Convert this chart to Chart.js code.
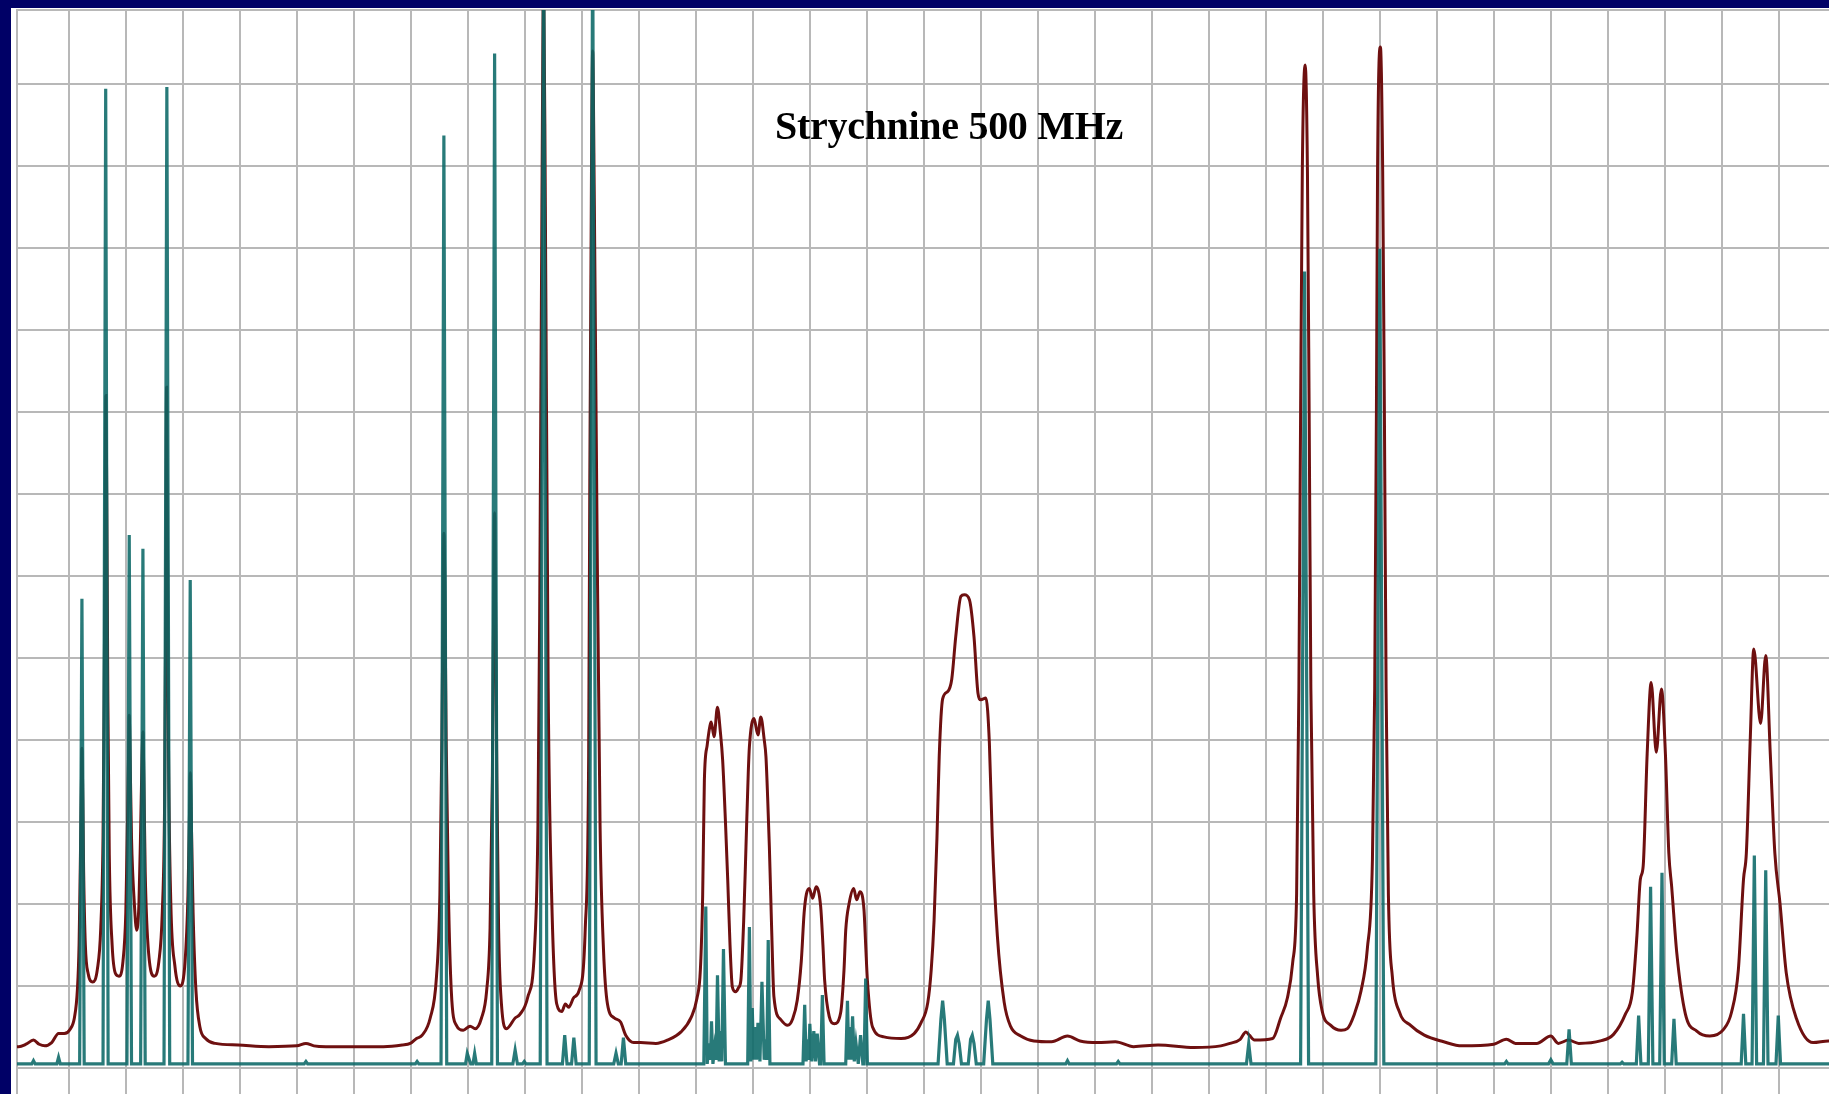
<!DOCTYPE html>
<html>
<head>
<meta charset="utf-8">
<title>Strychnine 500 MHz</title>
<script src="https://cdn.jsdelivr.net/npm/chart.js@4.4.1/dist/chart.umd.min.js"></script>
<style>
  html, body { margin: 0; padding: 0; }
  body { width: 1829px; height: 1094px; background: #000066; position: relative; overflow: hidden; }
  #plot { position: absolute; left: 11px; top: 8px; width: 1818px; height: 1086px; background: #ffffff; }
  #title {
    position: absolute; left: 649px; top: 106px; width: 600px; text-align: center;
    font-family: 'Liberation Serif', 'Times New Roman', serif; font-weight: bold;
    font-size: 40px; line-height: 40px; color: #000; letter-spacing: -0.3px;
  }
</style>
</head>
<body>
<div id="plot"><canvas id="nmrChart"></canvas></div>
<div id="title">Strychnine 500 MHz</div>

<script>
// x = position in grid columns, y = intensity in grid rows
const xTicks = [0, 1, 2, 3, 4, 5, 6, 7, 8, 9, 10, 11, 12, 13, 14, 15, 16, 17, 18, 19, 20, 21, 22, 23, 24, 25, 26, 27, 28, 29, 30];
const yTicks = [0, 1, 2, 3, 4, 5, 6, 7, 8, 9, 10, 11, 12];
const xBounds = [-0.909, 30.88];
const yBounds = [-0.317, 12.9];

// broadened spectrum (dark red)
const broadTrace = [
  [-0.95, 0.26], [-0.88, 0.26], [-0.75, 0.29], [-0.62, 0.34], [-0.52, 0.29], [-0.42, 0.27], [-0.30, 0.31],
  [-0.18, 0.42], [-0.08, 0.42], [0.02, 0.47], [0.10, 0.62], [0.15, 0.95], [0.18, 1.5], [0.20, 2.4],
  [0.22, 3.4], [0.23, 3.9], [0.245, 3.3], [0.26, 2.4], [0.29, 1.5], [0.34, 1.15], [0.42, 1.05],
  [0.50, 1.2], [0.56, 1.7], [0.60, 2.8], [0.62, 4.5], [0.64, 7.0], [0.65, 8.2], [0.665, 7.0],
  [0.685, 4.5], [0.71, 2.6], [0.76, 1.5], [0.82, 1.15], [0.88, 1.12], [0.95, 1.3], [1.00, 1.9],
  [1.03, 3.0], [1.05, 3.9], [1.06, 4.3], [1.075, 3.8], [1.10, 2.8], [1.15, 2.0], [1.19, 1.68],
  [1.23, 2.0], [1.26, 2.9], [1.285, 3.8], [1.30, 4.1], [1.315, 3.6], [1.34, 2.4], [1.40, 1.4],
  [1.50, 1.12], [1.58, 1.3], [1.64, 1.9], [1.68, 3.2], [1.70, 5.5], [1.715, 8.3], [1.73, 6.5],
  [1.75, 3.8], [1.79, 2.0], [1.86, 1.25], [1.96, 1.0], [2.04, 1.3], [2.09, 2.1], [2.12, 3.2],
  [2.13, 3.6], [2.15, 3.0], [2.18, 1.9], [2.23, 0.95], [2.30, 0.50], [2.40, 0.36], [2.57, 0.30],
  [2.97, 0.28], [3.51, 0.26], [4.0, 0.27], [4.16, 0.30], [4.3, 0.27], [4.51, 0.26], [5.0, 0.26],
  [5.52, 0.26], [5.85, 0.28], [5.99, 0.30], [6.10, 0.36], [6.20, 0.40], [6.34, 0.61], [6.45, 1.11],
  [6.51, 2.12], [6.545, 4.0], [6.57, 6.0], [6.58, 6.52], [6.595, 6.0], [6.62, 4.0], [6.66, 2.12],
  [6.71, 0.94], [6.80, 0.52], [6.92, 0.46], [7.04, 0.51], [7.13, 0.48], [7.24, 0.61], [7.33, 0.94],
  [7.39, 1.70], [7.43, 3.5], [7.455, 5.8], [7.47, 6.77], [7.485, 5.8], [7.51, 3.5], [7.54, 1.70],
  [7.59, 0.78], [7.68, 0.48], [7.83, 0.61], [7.91, 0.65], [8.05, 0.86], [8.17, 1.45], [8.23, 2.96],
  [8.26, 5.47], [8.30, 10.5], [8.33, 13.3], [8.36, 10.5], [8.41, 4.63], [8.47, 2.12], [8.56, 0.78],
  [8.65, 0.69], [8.71, 0.78], [8.77, 0.74], [8.86, 0.86], [8.95, 0.94], [9.06, 1.70], [9.12, 3.80],
  [9.14, 7.15], [9.17, 11.0], [9.19, 12.4], [9.22, 10.5], [9.27, 6.31], [9.32, 2.96], [9.38, 1.45],
  [9.45, 0.78], [9.57, 0.61], [9.68, 0.56], [9.77, 0.40], [9.91, 0.31], [10.03, 0.31], [10.3, 0.30],
  [10.5, 0.34], [10.74, 0.44], [10.92, 0.62], [11.02, 0.85], [11.08, 1.2], [11.12, 2.1], [11.15, 3.51],
  [11.20, 3.94], [11.25, 4.18], [11.27, 4.22], [11.32, 4.04], [11.38, 4.40], [11.43, 4.1], [11.47, 3.76],
  [11.52, 3.0], [11.56, 2.29], [11.60, 1.5], [11.64, 0.99], [11.70, 0.93], [11.75, 0.98], [11.79, 1.07],
  [11.84, 1.8], [11.88, 2.70], [11.92, 3.6], [11.94, 3.92], [12.02, 4.26], [12.09, 4.06], [12.14, 4.28],
  [12.20, 4.0], [12.23, 3.80], [12.26, 3.3], [12.29, 2.70], [12.33, 1.7], [12.37, 0.87], [12.49, 0.59],
  [12.61, 0.52], [12.70, 0.6], [12.78, 0.83], [12.85, 1.3], [12.90, 1.89], [12.94, 2.12], [12.99, 2.19],
  [13.05, 2.07], [13.11, 2.21], [13.19, 1.97], [13.23, 1.5], [13.26, 1.07], [13.34, 0.63], [13.43, 0.54],
  [13.54, 0.67], [13.60, 1.2], [13.63, 1.68], [13.69, 2.01], [13.77, 2.19], [13.82, 2.05], [13.88, 2.15],
  [13.95, 1.93], [13.98, 1.5], [14.01, 1.07], [14.10, 0.50], [14.30, 0.38], [14.60, 0.36], [14.83, 0.42],
  [14.95, 0.55], [15.07, 0.8], [15.13, 1.2], [15.18, 1.8], [15.23, 2.8], [15.27, 3.8], [15.33, 4.5],
  [15.42, 4.59], [15.49, 4.74], [15.56, 5.26], [15.65, 5.75], [15.71, 5.77], [15.80, 5.71], [15.88, 5.26],
  [15.95, 4.57], [16.0, 4.49], [16.09, 4.51], [16.15, 3.96], [16.20, 2.83], [16.29, 1.61], [16.41, 0.80],
  [16.52, 0.51], [16.70, 0.39], [16.93, 0.33], [17.24, 0.32], [17.52, 0.39], [17.74, 0.33], [18.05, 0.31],
  [18.36, 0.32], [18.68, 0.26], [19.11, 0.28], [19.74, 0.25], [20.21, 0.27], [20.37, 0.30], [20.55, 0.35],
  [20.65, 0.44], [20.71, 0.40], [20.80, 0.34], [21.12, 0.36], [21.26, 0.61], [21.38, 0.86], [21.47, 1.28],
  [21.54, 2.12], [21.58, 4.63], [21.61, 7.99], [21.64, 10.93], [21.69, 12.23], [21.73, 10.93], [21.76, 7.99],
  [21.79, 4.63], [21.84, 2.12], [21.91, 1.11], [21.99, 0.69], [22.14, 0.52], [22.32, 0.46], [22.43, 0.48],
  [22.55, 0.65], [22.67, 0.94], [22.78, 1.45], [22.87, 2.54], [22.91, 4.63], [22.94, 7.99], [22.96, 10.93],
  [23.01, 12.45], [23.05, 10.93], [23.08, 7.99], [23.11, 4.63], [23.15, 2.12], [23.22, 1.11], [23.34, 0.69],
  [23.54, 0.52], [23.78, 0.40], [24.12, 0.32], [24.44, 0.27], [25.0, 0.29], [25.22, 0.35], [25.38, 0.30],
  [25.75, 0.30], [26.0, 0.39], [26.13, 0.30], [26.31, 0.34], [26.49, 0.30], [26.87, 0.33], [27.10, 0.41],
  [27.31, 0.66], [27.43, 0.92], [27.51, 1.61], [27.57, 2.30], [27.62, 2.46], [27.69, 3.83], [27.76, 4.70],
  [27.85, 3.85], [27.94, 4.62], [28.01, 3.83], [28.07, 2.62], [28.12, 2.21], [28.21, 1.40], [28.36, 0.66],
  [28.56, 0.45], [28.79, 0.39], [29.03, 0.47], [29.17, 0.68], [29.29, 1.20], [29.38, 2.30], [29.43, 2.62],
  [29.50, 4.04], [29.56, 5.11], [29.68, 4.20], [29.77, 5.03], [29.85, 3.83], [29.93, 2.62], [30.02, 2.01],
  [30.13, 1.16], [30.31, 0.60], [30.60, 0.31], [30.87, 0.33], [31.0, 0.33]
];

// stick-like spectrum (teal)
const sharpTrace = [
  [-0.95, 0.05], [-0.65, 0.05], [-0.62, 0.09], [-0.59, 0.05], [-0.21, 0.05], [-0.18, 0.13], [-0.15, 0.05],
  [0.19, 0.05], [0.23, 5.72], [0.27, 0.05],
  [0.60, 0.05], [0.647, 11.94], [0.69, 0.05],
  [1.02, 0.05], [1.06, 6.50], [1.10, 0.05],
  [1.26, 0.05], [1.30, 6.33], [1.34, 0.05],
  [1.67, 0.05], [1.72, 11.96], [1.77, 0.05],
  [2.09, 0.05], [2.13, 5.95], [2.17, 0.05],
  [4.13, 0.05], [4.16, 0.08], [4.19, 0.05],
  [6.08, 0.05], [6.11, 0.08], [6.14, 0.05],
  [6.53, 0.05], [6.58, 11.37], [6.63, 0.05],
  [6.96, 0.05], [6.99, 0.18], [7.05, 0.05], [7.09, 0.05], [7.12, 0.18], [7.15, 0.05],
  [7.42, 0.05], [7.47, 12.37], [7.52, 0.05],
  [7.79, 0.05], [7.83, 0.22], [7.87, 0.05], [7.96, 0.05], [7.99, 0.08], [8.02, 0.05],
  [8.27, 0.05], [8.33, 14.0], [8.39, 0.05],
  [8.66, 0.05], [8.70, 0.40], [8.74, 0.05], [8.82, 0.05], [8.86, 0.37], [8.90, 0.05],
  [9.13, 0.05], [9.19, 14.0], [9.25, 0.05],
  [9.56, 0.05], [9.60, 0.18], [9.64, 0.05], [9.69, 0.05], [9.73, 0.37], [9.77, 0.05],
  [11.14, 0.05], [11.175, 1.97], [11.20, 0.05], [11.23, 0.30], [11.255, 0.10], [11.275, 0.57], [11.30, 0.05],
  [11.33, 0.25], [11.355, 0.10], [11.38, 1.13], [11.41, 0.08], [11.43, 0.45], [11.455, 0.08], [11.485, 1.45],
  [11.52, 0.05],
  [11.91, 0.05], [11.94, 1.72], [11.965, 0.08], [11.99, 0.73], [12.015, 0.10], [12.04, 0.5], [12.065, 0.10],
  [12.09, 0.55], [12.125, 0.08], [12.16, 1.05], [12.20, 0.10], [12.225, 0.35], [12.245, 0.10], [12.27, 1.56],
  [12.30, 0.05],
  [12.88, 0.05], [12.91, 0.77], [12.935, 0.08], [12.96, 0.35], [12.98, 0.10], [13.0, 0.54], [13.035, 0.08],
  [13.07, 0.45], [13.10, 0.08], [13.13, 0.42], [13.17, 0.05], [13.19, 0.05], [13.22, 0.89], [13.25, 0.05],
  [13.63, 0.05], [13.66, 0.82], [13.685, 0.10], [13.70, 0.50], [13.725, 0.10], [13.75, 0.63], [13.78, 0.08],
  [13.81, 0.30], [13.85, 0.05], [13.89, 0.40], [13.93, 0.05], [13.95, 0.05], [13.98, 1.09], [14.01, 0.05],
  [15.25, 0.05], [15.30, 0.6], [15.33, 0.82], [15.36, 0.6], [15.41, 0.05],
  [15.52, 0.05], [15.56, 0.35], [15.59, 0.40], [15.62, 0.30], [15.66, 0.05],
  [15.78, 0.05], [15.82, 0.35], [15.85, 0.40], [15.88, 0.30], [15.92, 0.05],
  [16.05, 0.05], [16.10, 0.6], [16.13, 0.82], [16.16, 0.6], [16.21, 0.05],
  [17.49, 0.05], [17.52, 0.09], [17.55, 0.05], [18.38, 0.05], [18.41, 0.08], [18.44, 0.05],
  [20.66, 0.05], [20.70, 0.30], [20.74, 0.05],
  [21.61, 0.05], [21.68, 9.71], [21.75, 0.05],
  [22.93, 0.05], [23.0, 9.99], [23.07, 0.05],
  [25.19, 0.05], [25.22, 0.08], [25.25, 0.05], [25.96, 0.05], [26.0, 0.10], [26.04, 0.05],
  [26.28, 0.05], [26.32, 0.47], [26.36, 0.05],
  [27.22, 0.05], [27.25, 0.07], [27.28, 0.05],
  [27.50, 0.05], [27.54, 0.64], [27.58, 0.05], [27.71, 0.05], [27.75, 2.21], [27.79, 0.05],
  [27.91, 0.05], [27.95, 2.38], [27.99, 0.05], [28.12, 0.05], [28.16, 0.60], [28.20, 0.05],
  [29.34, 0.05], [29.38, 0.66], [29.42, 0.05], [29.53, 0.05], [29.57, 2.59], [29.61, 0.05],
  [29.73, 0.05], [29.77, 2.41], [29.81, 0.05], [29.95, 0.05], [29.99, 0.64], [30.03, 0.05],
  [31.0, 0.05]
];

const toPoints = (trace) => trace.map(p => ({ x: p[0], y: p[1] }));

const gridColor = '#b8b8b8';

const ctx = document.getElementById('nmrChart').getContext('2d');

new Chart(ctx, {
  type: 'line',
  data: {
    datasets: [
      {
        label: 'Sticks',
        data: toPoints(sharpTrace),
        borderColor: 'rgba(10, 104, 102, 0.88)',
        borderWidth: 3.2,
        pointRadius: 0,
        tension: 0,
        fill: false,
        order: 0
      },
      {
        label: 'Broadened',
        data: toPoints(broadTrace),
        borderColor: '#6e1010',
        borderWidth: 3,
        pointRadius: 0,
        cubicInterpolationMode: 'monotone',
        fill: false,
        order: 1
      }
    ]
  },
  options: {
    responsive: true,
    maintainAspectRatio: false,
    animation: false,
    layout: { padding: { left: 6, top: 2, right: 0, bottom: 0 } },
    plugins: {
      legend: { display: false },
      tooltip: { enabled: false },
      title: { display: false }
    },
    scales: {
      x: {
        type: 'linear',
        position: 'top',
        min: xBounds[0],
        max: xBounds[1],
        afterBuildTicks: (scale) => { scale.ticks = xTicks.map(v => ({ value: v })); },
        ticks: { display: false },
        grid: { color: gridColor, lineWidth: 2, drawTicks: false },
        border: { display: true, color: gridColor, width: 2 }
      },
      y: {
        type: 'linear',
        min: yBounds[0],
        max: yBounds[1],
        afterBuildTicks: (scale) => { scale.ticks = yTicks.map(v => ({ value: v })); },
        ticks: { display: false },
        grid: { color: gridColor, lineWidth: 2, drawTicks: false },
        border: { display: true, color: gridColor, width: 2 }
      }
    }
  }
});
</script>
</body>
</html>
